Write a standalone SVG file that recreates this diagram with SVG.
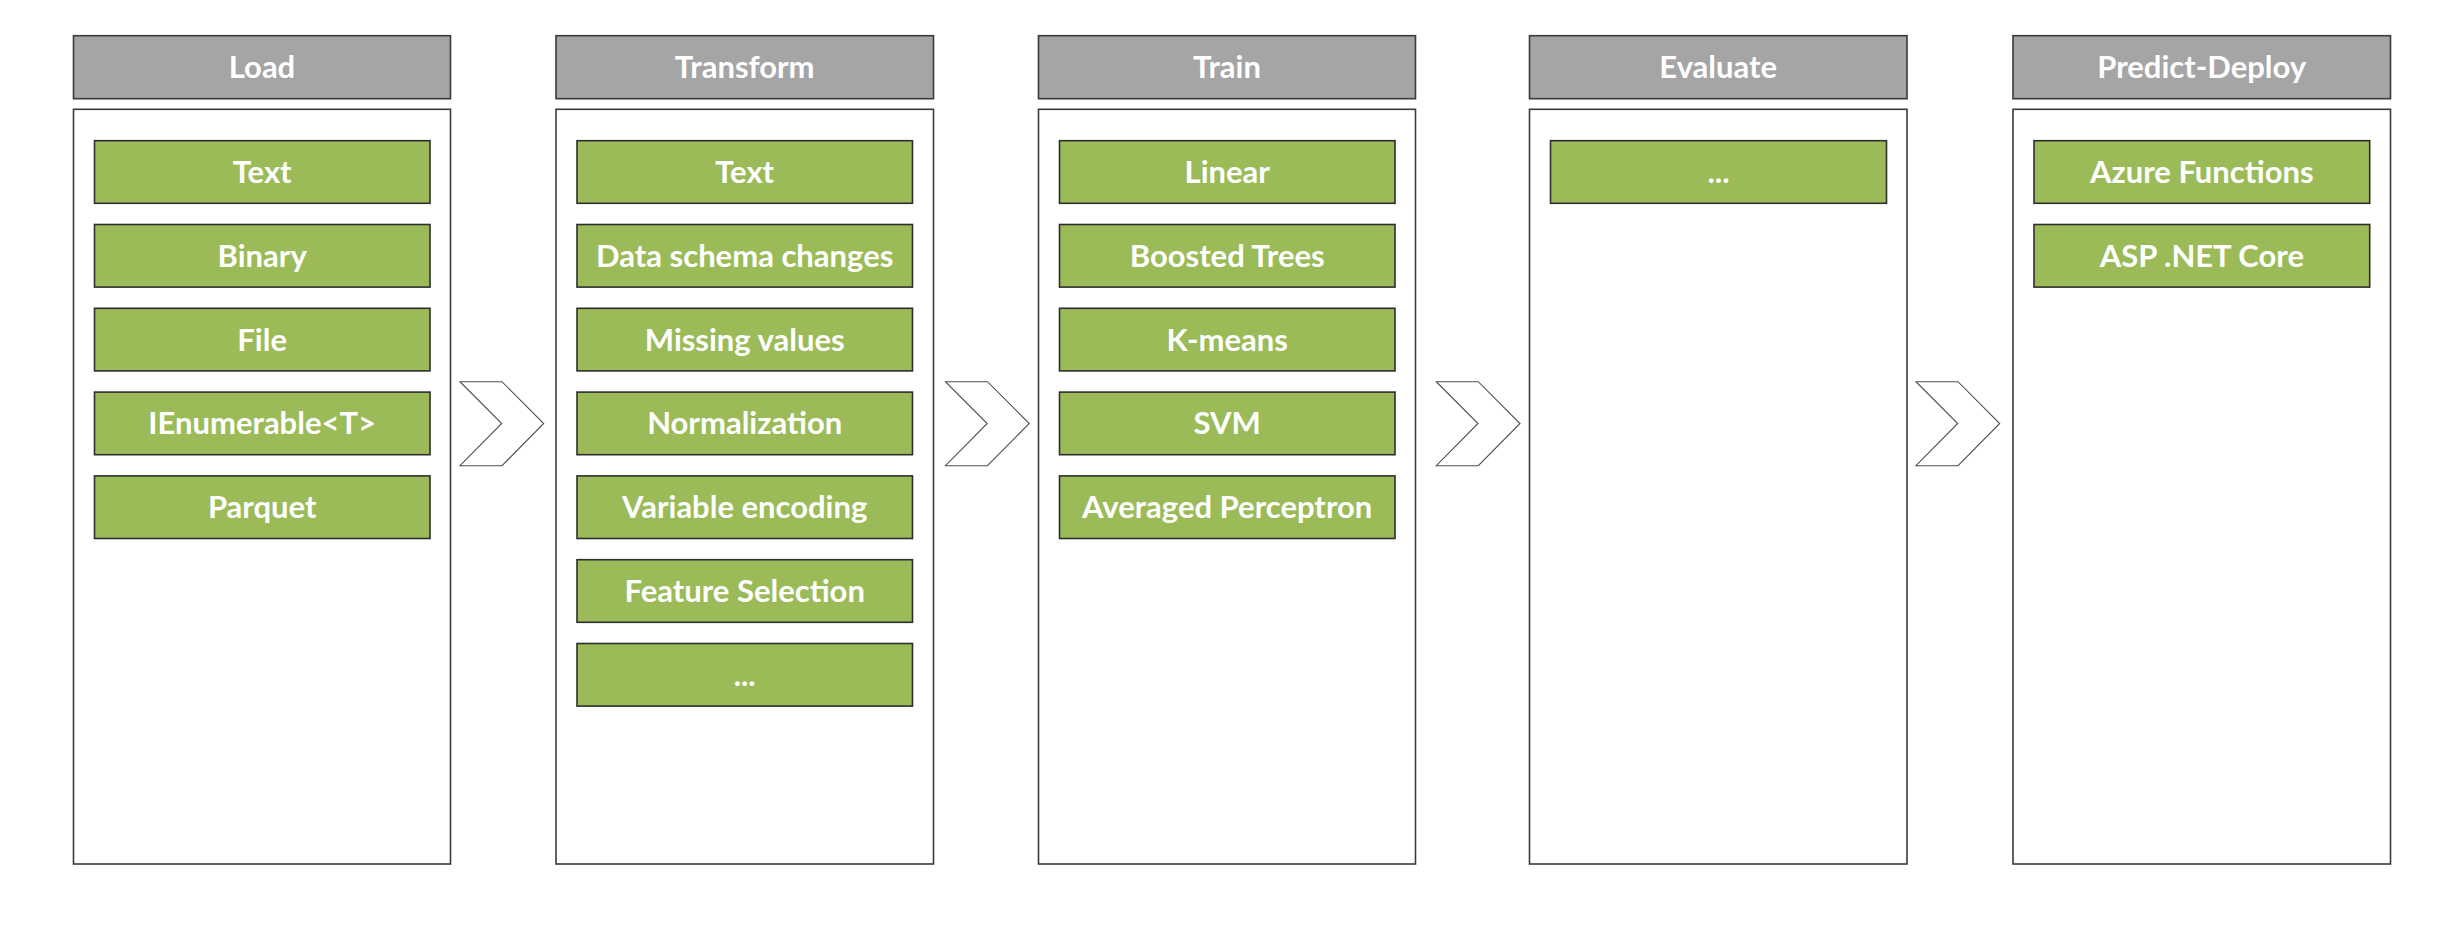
<svg xmlns="http://www.w3.org/2000/svg" width="2456" height="935" viewBox="0 0 2456 935">
<style>
.hdr{fill:#A5A5A5;stroke:#3a3a3a;stroke-width:1.6}
.box{fill:#FFFFFF;stroke:#3a3a3a;stroke-width:1.6}
.item{fill:#9BBB59;stroke:#2e2e2e;stroke-width:1.6}
.chev{fill:#FFFFFF;stroke:#505050;stroke-width:1.1;stroke-linejoin:miter}
text{font-family:"Lato","Open Sans","Liberation Sans",sans-serif;font-weight:700;font-size:31px;fill:#FFFFFF;text-anchor:middle}
</style>
<rect width="2456" height="935" fill="#FFFFFF"/>
<g id="connectors">
<polygon class="chev" points="460,381.7 502,381.7 543.7,423.5 502,465.7 460,465.7 501.7,423.5"/>
<polygon class="chev" points="945.5,381.7 987.5,381.7 1029.2,423.5 987.5,465.7 945.5,465.7 987.2,423.5"/>
<polygon class="chev" points="1436.3,381.7 1478.3,381.7 1520,423.5 1478.3,465.7 1436.3,465.7 1478,423.5"/>
<polygon class="chev" points="1916,381.7 1958,381.7 1999.7,423.5 1958,465.7 1916,465.7 1957.7,423.5"/>
</g>
<g id="load">
<rect class="hdr" x="73.5" y="35.7" width="377" height="63"/>
<text x="262" y="78">Load</text>
<rect class="box" x="73.5" y="109.3" width="377" height="754.7"/>
<g id="load-text"><rect class="item" x="94.5" y="140.7" width="335.5" height="62.6"/><text x="262.2" y="183">Text</text></g>
<g id="load-binary"><rect class="item" x="94.5" y="224.5" width="335.5" height="62.6"/><text x="262.2" y="266.8">Binary</text></g>
<g id="load-file"><rect class="item" x="94.5" y="308.3" width="335.5" height="62.6"/><text x="262.2" y="350.6">File</text></g>
<g id="load-ienumerable"><rect class="item" x="94.5" y="392.1" width="335.5" height="62.6"/><text x="262.2" y="434.4">IEnumerable&lt;T&gt;</text></g>
<g id="load-parquet"><rect class="item" x="94.5" y="475.9" width="335.5" height="62.6"/><text x="262.2" y="518.2">Parquet</text></g>
</g>
<g id="transform">
<rect class="hdr" x="556" y="35.7" width="377.5" height="63"/>
<text x="744.7" y="78">Transform</text>
<rect class="box" x="556" y="109.3" width="377.5" height="754.7"/>
<g id="transform-text"><rect class="item" x="577" y="140.7" width="335.5" height="62.6"/><text x="744.7" y="183">Text</text></g>
<g id="transform-schema"><rect class="item" x="577" y="224.5" width="335.5" height="62.6"/><text x="744.7" y="266.8">Data schema changes</text></g>
<g id="transform-missing"><rect class="item" x="577" y="308.3" width="335.5" height="62.6"/><text x="744.7" y="350.6">Missing values</text></g>
<g id="transform-normalization"><rect class="item" x="577" y="392.1" width="335.5" height="62.6"/><text x="744.7" y="434.4">Normalization</text></g>
<g id="transform-encoding"><rect class="item" x="577" y="475.9" width="335.5" height="62.6"/><text x="744.7" y="518.2">Variable encoding</text></g>
<g id="transform-feature"><rect class="item" x="577" y="559.7" width="335.5" height="62.6"/><text x="744.7" y="602">Feature Selection</text></g>
<g id="transform-more"><rect class="item" x="577" y="643.5" width="335.5" height="62.6"/><text x="744.7" y="685.8">...</text></g>
</g>
<g id="train">
<rect class="hdr" x="1038.5" y="35.7" width="377" height="63"/>
<text x="1227" y="78">Train</text>
<rect class="box" x="1038.5" y="109.3" width="377" height="754.7"/>
<g id="train-linear"><rect class="item" x="1059.5" y="140.7" width="335.5" height="62.6"/><text x="1227.2" y="183">Linear</text></g>
<g id="train-boosted"><rect class="item" x="1059.5" y="224.5" width="335.5" height="62.6"/><text x="1227.2" y="266.8">Boosted Trees</text></g>
<g id="train-kmeans"><rect class="item" x="1059.5" y="308.3" width="335.5" height="62.6"/><text x="1227.2" y="350.6">K-means</text></g>
<g id="train-svm"><rect class="item" x="1059.5" y="392.1" width="335.5" height="62.6"/><text x="1227.2" y="434.4">SVM</text></g>
<g id="train-perceptron"><rect class="item" x="1059.5" y="475.9" width="335.5" height="62.6"/><text x="1227.2" y="518.2">Averaged Perceptron</text></g>
</g>
<g id="evaluate">
<rect class="hdr" x="1529.5" y="35.7" width="377.5" height="63"/>
<text x="1718.2" y="78">Evaluate</text>
<rect class="box" x="1529.5" y="109.3" width="377.5" height="754.7"/>
<g id="evaluate-more"><rect class="item" x="1550.5" y="140.7" width="336" height="62.6"/><text x="1718.5" y="183">...</text></g>
</g>
<g id="predict-deploy">
<rect class="hdr" x="2013" y="35.7" width="377.5" height="63"/>
<text x="2201.7" y="78">Predict-Deploy</text>
<rect class="box" x="2013" y="109.3" width="377.5" height="754.7"/>
<g id="predict-azure"><rect class="item" x="2034" y="140.7" width="335.7" height="62.6"/><text x="2201.8" y="183">Azure Functions</text></g>
<g id="predict-aspnet"><rect class="item" x="2034" y="224.5" width="335.7" height="62.6"/><text x="2201.8" y="266.8">ASP .NET Core</text></g>
</g>
</svg>
